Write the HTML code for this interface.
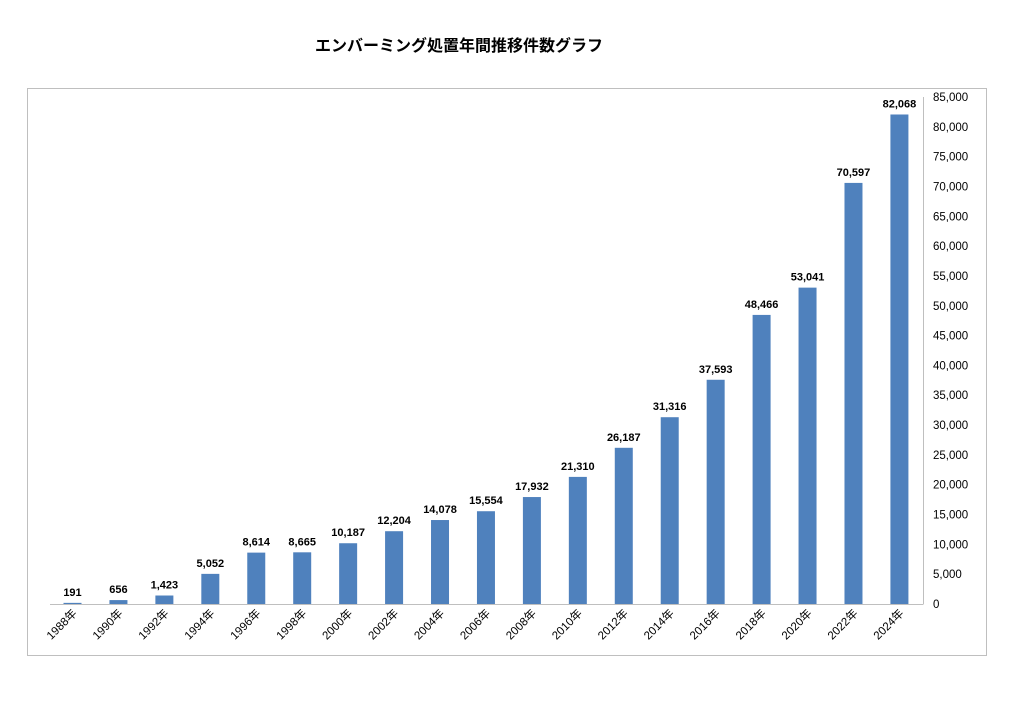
<!DOCTYPE html>
<html><head><meta charset="utf-8"><style>
body{margin:0;background:#fff;}
svg{display:block;font-family:"Liberation Sans","Noto Sans CJK JP",sans-serif;}
</style></head><body>
<svg width="1024" height="726" viewBox="0 0 1024 726" xmlns="http://www.w3.org/2000/svg">
<rect x="0" y="0" width="1024" height="726" fill="#fff"/>
<text x="459" y="51" text-anchor="middle" font-size="16" font-weight="bold" fill="#000">エンバーミング処置年間推移件数グラフ</text>
<rect x="27.5" y="88.5" width="959" height="567" fill="none" stroke="#bfbfbf" stroke-width="1"/>
<line x1="50" y1="604.5" x2="923" y2="604.5" stroke="#bfbfbf"/>
<line x1="923.5" y1="97" x2="923.5" y2="604.5" stroke="#bfbfbf"/>
<g font-size="11.5" fill="#000" id="yt"></g>
<g fill="#4f81bd" id="bars"></g>
<g font-size="11" font-weight="bold" fill="#000" text-anchor="middle" id="vals"></g>
<g font-size="11.5" fill="#000" text-anchor="end" id="xl"></g>
</svg>
<script>
(function(){
var vals=[191,656,1423,5052,8614,8665,10187,12204,14078,15554,17932,21310,26187,31316,37593,48466,53041,70597,82068];
var k=507/85000,ns="http://www.w3.org/2000/svg";
function el(p,t,a,txt){var e=document.createElementNS(ns,t);for(var n in a)e.setAttribute(n,a[n]);if(txt)e.textContent=txt;document.getElementById(p).appendChild(e);}
for(var j=0;j<=17;j++){var y=604-j*507/17;el('yt','text',{x:933,y:y+4},j==0?'0':(j*5000).toLocaleString('en-US'));}
for(var i=0;i<vals.length;i++){var cx=72.5+45.94*i,h=vals[i]*k,ty=604-h;
el('bars','rect',{x:cx-9,y:ty,width:18,height:h});
el('vals','text',{x:cx,y:ty-7},vals[i].toLocaleString('en-US'));
var yr=1988+2*i;el('xl','text',{x:cx+5,y:614,transform:'rotate(-45 '+(cx+5)+' 614)'},yr+'年');}
})();
</script>
</body></html>
